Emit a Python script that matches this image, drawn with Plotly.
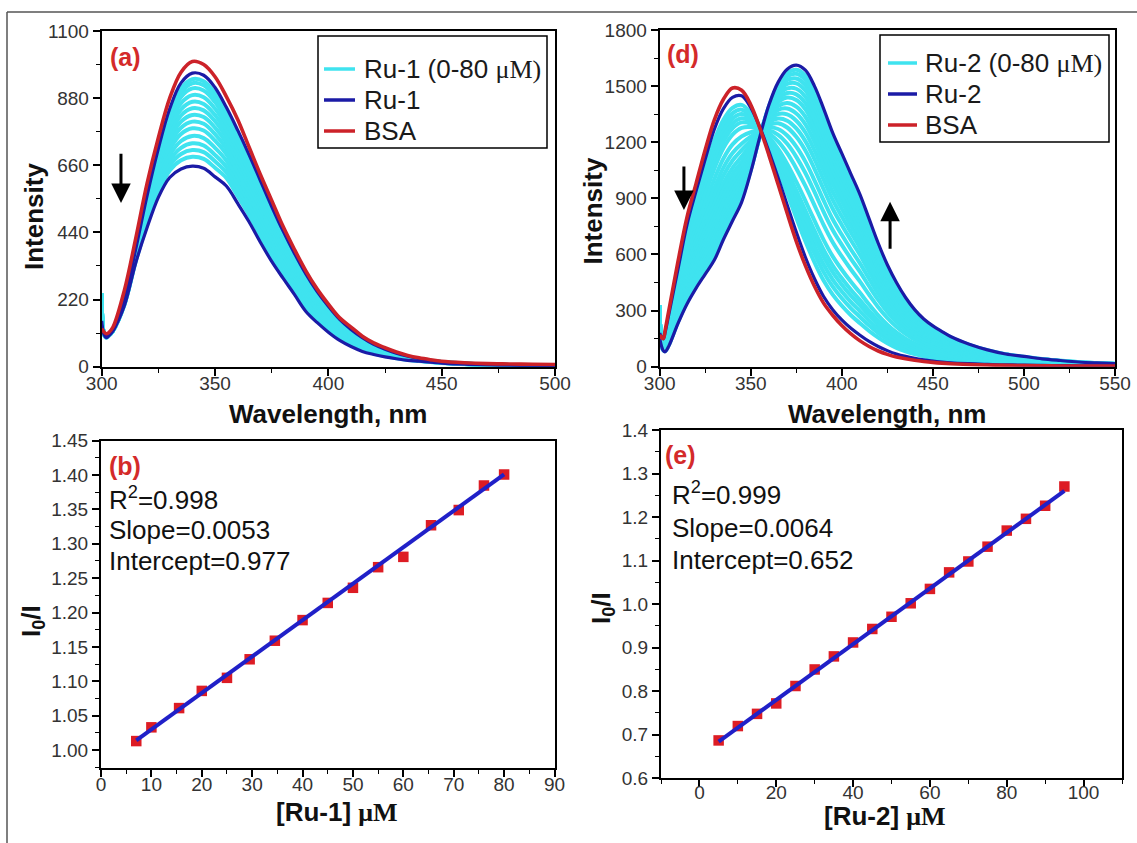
import numpy as np
import plotly.graph_objects as go

W, H = 1137, 843

# ---------------- (a) BSA + Ru-1 emission spectra ----------------
wl_a = [300, 301, 302, 303, 305, 310, 315, 320, 325, 330, 335, 340, 345, 350, 355,
        360, 365, 370, 375, 380, 385, 390, 395, 400, 405, 410, 415, 420, 425, 430,
        435, 440, 445, 450, 460, 470, 480, 490, 500]
bsa_a = [125, 114, 108, 111, 130, 250, 420, 600, 750, 880, 965, 1000, 990, 950, 885,
         810, 720, 630, 545, 460, 385, 315, 255, 205, 160, 130, 100, 78, 62, 48,
         37, 29, 23, 18, 13, 10, 9, 8, 7]
ru1_first = [135, 110, 100, 103, 118, 220, 385, 560, 715, 845, 930, 962, 955, 915, 850,
             775, 695, 610, 525, 445, 372, 305, 247, 198, 155, 122, 95, 73, 57, 44,
             34, 26, 20, 16, 11, 8, 6, 5, 4]
ru1_last = [150, 105, 95, 100, 118, 200, 340, 455, 555, 620, 648, 657, 650, 622, 592,
            535, 475, 408, 345, 290, 237, 182, 145, 113, 86, 66, 50, 40, 32, 26,
            21, 18, 15, 12, 8, 6, 5, 4, 3]
# intensity of each intermediate titration spectrum at 340 nm
ru1_steps_340 = [942, 929, 912, 890, 868, 847, 825, 803, 781, 756, 732, 710, 688]
ru1_edge_300 = 240

# ---------------- (d) BSA + Ru-2 emission spectra ----------------
wl_d = [300, 301, 302, 303, 305, 310, 315, 320, 325, 330, 335, 340, 345, 350, 355,
        360, 365, 370, 375, 380, 385, 390, 395, 400, 405, 410, 415, 420, 425, 430,
        435, 440, 445, 450, 455, 460, 470, 480, 490, 500, 510, 520, 530, 540, 550]
bsa_d = [170, 155, 150, 195, 300, 560, 800, 980, 1160, 1320, 1430, 1490, 1478, 1400, 1275,
         1130, 975, 820, 670, 540, 430, 340, 275, 220, 175, 138, 108, 84, 66, 52,
         42, 34, 28, 23, 19, 16, 12, 9, 7, 6, 5, 4, 4, 3, 3]
ru2_first = [180, 160, 150, 185, 280, 520, 760, 940, 1110, 1270, 1380, 1440, 1448, 1385, 1280,
             1150, 1010, 865, 720, 585, 470, 375, 305, 250, 205, 168, 135, 108, 86, 68,
             55, 45, 37, 30, 25, 21, 16, 12, 10, 8, 7, 6, 5, 4, 4]
ru2_last = [150, 110, 85, 80, 110, 230, 335, 420, 495, 570, 680, 780, 880, 1040, 1230,
            1400, 1520, 1590, 1612, 1585, 1500, 1380, 1250, 1140, 1030, 920, 790, 660, 545, 450,
            370, 305, 255, 218, 188, 160, 120, 90, 68, 55, 42, 33, 25, 20, 16]
# intensity of each intermediate titration spectrum at 375 nm
ru2_steps_375 = [796, 836, 872, 909, 943, 989, 1060, 1122, 1176, 1229, 1274, 1315, 1354,
                 1390, 1426, 1456, 1486, 1515, 1541, 1566, 1587]
ru2_edge_300 = 330

# ---------------- (b) Stern-Volmer plot, Ru-1 ----------------
conc_b = [7, 10, 15.5, 20, 25, 29.5, 34.5, 40, 45, 50, 55, 60, 65.5, 71, 76, 80]
ratio_b = [1.013, 1.033, 1.061, 1.086, 1.105, 1.132, 1.159, 1.189, 1.214, 1.236, 1.266,
           1.281, 1.327, 1.349, 1.385, 1.401]
r2_b, slope_b, icpt_b = 0.998, 0.0053, 0.977

# ---------------- (e) Stern-Volmer plot, Ru-2 ----------------
conc_e = [5, 10, 15, 20, 25, 30, 35, 40, 45, 50, 55, 60, 65, 70, 75, 80, 85, 90, 95]
ratio_e = [0.687, 0.720, 0.748, 0.772, 0.812, 0.850, 0.880, 0.912, 0.943, 0.971, 1.002,
           1.035, 1.073, 1.098, 1.132, 1.169, 1.196, 1.226, 1.270]
r2_e, slope_e, icpt_e = 0.999, 0.0064, 0.652

CYAN = "#3fe3ef"
BLUE = "#1b1ba6"
RED = "#cc2229"
FIT_BLUE = "#2020c8"
SQ_RED = "#dd1c24"
FONT = "Liberation Sans"
SERIF = "Liberation Serif"


def px(x):
    return x / W


def py(y):
    return 1 - y / H


def titration(wl, first, last, ref_wl, levels, edge):
    first = np.asarray(first, float)
    last = np.asarray(last, float)
    i = wl.index(ref_wl)
    spectra = []
    for v in levels:
        w = (v - first[i]) / (last[i] - first[i])
        s = (1 - w) * first + w * last
        s[0] = edge
        spectra.append(s)
    return spectra


fig = go.Figure()


def spectra_panel(xa, ya, wl, bsa, first, last, steps):
    for s in steps:
        fig.add_trace(go.Scatter(x=wl, y=s, mode="lines", xaxis=xa, yaxis=ya,
                                 line=dict(color=CYAN, width=4, shape="spline", smoothing=1.0),
                                 hoverinfo="skip"))
    for s in (first, last):
        fig.add_trace(go.Scatter(x=wl, y=s, mode="lines", xaxis=xa, yaxis=ya,
                                 line=dict(color=BLUE, width=3.2, shape="spline", smoothing=1.0)))
    fig.add_trace(go.Scatter(x=wl, y=bsa, mode="lines", xaxis=xa, yaxis=ya,
                             line=dict(color=RED, width=3.6, shape="spline", smoothing=1.0)))


spectra_panel("x", "y", wl_a, bsa_a, ru1_first, ru1_last,
              titration(wl_a, ru1_first, ru1_last, 340, ru1_steps_340, ru1_edge_300))
spectra_panel("x2", "y2", wl_d, bsa_d, ru2_first, ru2_last,
              titration(wl_d, ru2_first, ru2_last, 375, ru2_steps_375, ru2_edge_300))


def sv_panel(xa, ya, conc, ratio, slope, icpt):
    fig.add_trace(go.Scatter(x=conc, y=ratio, mode="markers", xaxis=xa, yaxis=ya,
                             marker=dict(symbol="square", size=10.5, color=SQ_RED,
                                         line=dict(width=0))))
    xf = np.array([conc[0], conc[-1]], float)
    fig.add_trace(go.Scatter(x=xf, y=icpt + slope * xf, mode="lines", xaxis=xa, yaxis=ya,
                             line=dict(color=FIT_BLUE, width=4)))


sv_panel("x3", "y3", conc_b, ratio_b, slope_b, icpt_b)
sv_panel("x4", "y4", conc_e, ratio_e, slope_e, icpt_e)


def axis(domain, rng, dtick, minor, anchor, fmt=None, tick0=None, standoff=0):
    d = dict(domain=domain, range=rng, dtick=dtick, anchor=anchor,
             showline=True, linecolor="black", linewidth=2, mirror=True,
             ticks="outside", ticklen=7, tickwidth=1.5, tickcolor="black",
             minor=dict(dtick=minor, ticks="outside", ticklen=4, tickwidth=1.2, tickcolor="black"),
             showgrid=False, zeroline=False, automargin=False,
             ticklabelstandoff=standoff,
             tickfont=dict(family=FONT, size=19, color="#333333"))
    if fmt:
        d["tickformat"] = fmt
    if tick0 is not None:
        d["tick0"] = tick0
    return d


fig.update_layout(
    width=W, height=H, margin=dict(l=0, r=0, t=0, b=0), autosize=False,
    paper_bgcolor="white", plot_bgcolor="white", showlegend=False,
    xaxis=axis([px(101.7), px(555)], [300, 500], 50, 25, "y", standoff=-9),
    yaxis=axis([py(366.7), py(31)], [0, 1100], 220, 110, "x", tick0=0),
    xaxis2=axis([px(659.7), px(1115)], [300, 550], 50, 25, "y2", standoff=-9),
    yaxis2=axis([py(366.7), py(30)], [0, 1800], 300, 150, "x2", tick0=0),
    xaxis3=axis([px(101), px(554.5)], [0, 90], 10, 5, "y3", tick0=0, standoff=-9),
    yaxis3=axis([py(768.3), py(440.7)], [0.9734, 1.45], 0.05, 0.025, "x3", fmt=".2f", tick0=1.0),
    xaxis4=axis([px(661), px(1122)], [-10, 110], 20, 10, "y4", tick0=0, standoff=-11),
    yaxis4=axis([py(778.3), py(430)], [0.6, 1.4], 0.1, 0.05, "x4", fmt=".1f", tick0=0.6),
)

ann = []


def text(x, y, s, size, color="#111111", anchor="center", angle=0, family=FONT):
    ann.append(dict(x=px(x), y=py(y), xref="paper", yref="paper", text=s, showarrow=False,
                    xanchor=anchor, yanchor="middle", textangle=angle,
                    font=dict(family=family, size=size, color=color)))


# panel tags
for tag, x, y in (("(a)", 125, 57), ("(d)", 683, 54), ("(b)", 125, 466), ("(e)", 680.5, 455)):
    text(x, y, "<b>%s</b>" % tag, 25, color="#d42a2a")

# axis titles
text(34, 217, "<b>Intensity</b>", 26, angle=-90)
text(592.5, 211, "<b>Intensity</b>", 26, angle=-90)
text(328, 414, "<b>Wavelength, nm</b>", 26)
text(887, 414, "<b>Wavelength, nm</b>", 26)
text(32, 621, "<b>I<sub>0</sub>/I</b>", 26, angle=-90)
text(602, 608, "<b>I<sub>0</sub>/I</b>", 26, angle=-90)
mu = "<span style='font-family:%s'>μM</span>" % SERIF
text(337, 812, "<b>[Ru-1] %s</b>" % mu, 26)
text(885, 816, "<b>[Ru-2] %s</b>" % mu, 26)

# fit statistics
for x0, ys, r2, sl, ic in ((107, (498, 530, 561), r2_b, slope_b, icpt_b),
                           (669.5, (493, 528, 560), r2_e, slope_e, icpt_e)):
    text(x0, ys[0], "R<sup>2</sup>=%.3f" % r2, 26, anchor="left")
    text(x0, ys[1], "Slope=%.4f" % sl, 26, anchor="left")
    text(x0, ys[2], "Intercept=%.3f" % ic, 26, anchor="left")

shapes = []


def legend(box, seg, tx, rows, name):
    x0, y0, x1, y1 = box
    shapes.append(dict(type="rect", xref="paper", yref="paper", x0=px(x0), x1=px(x1),
                       y0=py(y1), y1=py(y0), line=dict(color="black", width=1.5),
                       fillcolor="white", layer="above"))
    labels = ["%s (0-80 <span style='font-family:%s'>μM)</span>" % (name, SERIF), name, "BSA"]
    for yy, col, lab in zip(rows, (CYAN, BLUE, RED), labels):
        shapes.append(dict(type="line", xref="paper", yref="paper", x0=px(seg[0]), x1=px(seg[1]),
                           y0=py(yy), y1=py(yy), line=dict(color=col, width=3.5), layer="above"))
        text(tx, yy, lab, 26, color="#1a1a1a", anchor="left")


legend((318, 36, 547, 148), (324, 355), 362, (69, 100, 131), "Ru-1")
legend((880, 35, 1109, 142), (888, 917), 922.6, (63, 94, 125), "Ru-2")

# outer frame lines
shapes.append(dict(type="line", xref="paper", yref="paper", x0=px(7), x1=1, y0=py(12), y1=py(12),
                   line=dict(color="#555555", width=1.5)))
shapes.append(dict(type="line", xref="paper", yref="paper", x0=px(7), x1=px(7), y0=0, y1=py(12),
                   line=dict(color="#555555", width=1.5)))

# titration arrows
for xa, ya, x, y_tail, y_tip in (("x", "y", 308.5, 703, 536),
                                 ("x2", "y2", 313.3, 1078, 838),
                                 ("x2", "y2", 426.5, 623, 882)):
    ann.append(dict(x=x, y=y_tip, ax=x, ay=y_tail, xref=xa, yref=ya, axref=xa, ayref=ya,
                    text="", showarrow=True, arrowhead=2, arrowsize=1.3, arrowwidth=3,
                    arrowcolor="black"))

fig.update_layout(annotations=ann, shapes=shapes)
fig.write_html("out.html")
